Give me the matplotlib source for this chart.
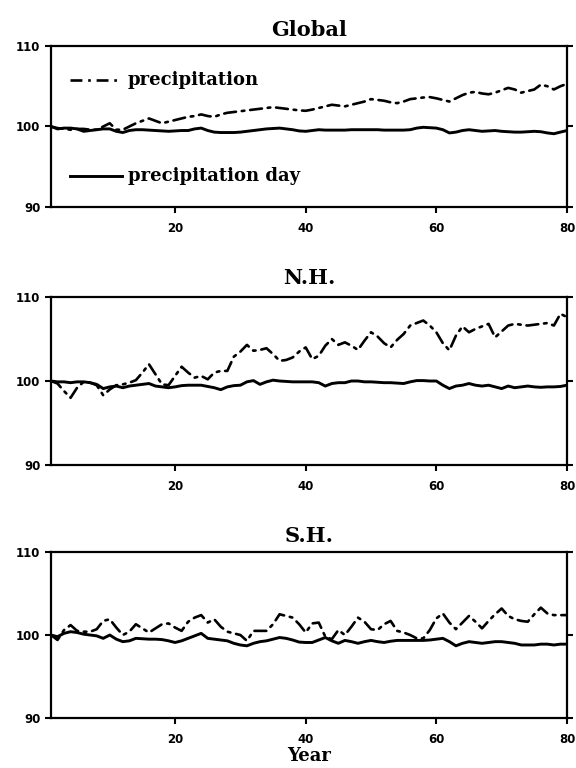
import numpy as np
import matplotlib
matplotlib.use("Agg")
import matplotlib.pyplot as plt

years = np.arange(1, 81)

global_precip = [
    100.0, 99.8, 99.7, 99.6, 99.7, 99.7, 99.6, 99.6, 100.0, 100.4,
    99.6, 99.6, 100.0, 100.4, 100.7, 101.0, 100.7, 100.4, 100.6, 100.8,
    101.0, 101.2, 101.3, 101.5, 101.3, 101.2, 101.5, 101.7, 101.8, 101.9,
    102.0, 102.1, 102.2, 102.3, 102.4, 102.3, 102.2, 102.1, 102.0, 101.95,
    102.1, 102.3, 102.5, 102.7, 102.6, 102.5, 102.7, 102.9, 103.1, 103.4,
    103.3, 103.2, 103.0, 102.9, 103.1, 103.4, 103.5, 103.6, 103.65, 103.5,
    103.3, 103.1, 103.5, 103.9, 104.2, 104.3, 104.1, 104.0, 104.2, 104.5,
    104.8, 104.6, 104.2, 104.4, 104.6, 105.2, 105.0, 104.6, 105.0, 105.3,
]
global_day = [
    100.0, 99.7, 99.8, 99.8, 99.7, 99.4, 99.5, 99.6, 99.7, 99.7,
    99.4, 99.25, 99.5, 99.6, 99.6, 99.55, 99.5, 99.45, 99.4, 99.45,
    99.5, 99.5, 99.7, 99.8, 99.5, 99.3, 99.25, 99.25, 99.25, 99.3,
    99.4, 99.5, 99.6, 99.7, 99.75, 99.8, 99.7, 99.6, 99.45, 99.4,
    99.5, 99.6, 99.55, 99.55, 99.55, 99.55, 99.6, 99.6, 99.6, 99.6,
    99.6, 99.55, 99.55, 99.55, 99.55, 99.6, 99.8, 99.9, 99.85, 99.8,
    99.6, 99.2, 99.3, 99.5, 99.6, 99.5, 99.4, 99.45, 99.5, 99.4,
    99.35, 99.3, 99.3, 99.35, 99.4, 99.35, 99.2, 99.1, 99.3, 99.5,
]
nh_precip = [
    100.0, 99.7, 98.8, 98.0, 99.2, 99.9, 99.8, 99.5, 98.3, 99.0,
    99.5, 99.6, 99.8, 100.1, 101.0, 102.0, 100.8, 99.6, 99.5, 100.6,
    101.7, 101.0, 100.4, 100.6, 100.2, 101.0, 101.2, 101.2, 102.9, 103.5,
    104.3, 103.6, 103.7, 103.9, 103.2, 102.4, 102.5, 102.8, 103.5, 104.0,
    102.6, 103.0, 104.2, 105.0, 104.3, 104.6, 104.2, 103.7, 104.8, 105.8,
    105.3, 104.5, 104.0, 104.9, 105.6, 106.6, 106.9, 107.2, 106.6, 105.8,
    104.5, 103.65, 105.4, 106.5, 105.8, 106.2, 106.5, 106.8, 105.2, 105.9,
    106.6, 106.8, 106.7, 106.6, 106.7, 106.8, 106.9, 106.6, 108.0, 107.6,
]
nh_day = [
    100.0, 99.9, 99.9, 99.8, 99.9, 99.9, 99.8, 99.6, 99.1, 99.3,
    99.4, 99.2, 99.4, 99.5, 99.6, 99.7, 99.4, 99.3, 99.2, 99.3,
    99.45, 99.5, 99.5, 99.5, 99.35, 99.2, 98.97, 99.3, 99.45, 99.5,
    99.9, 100.05, 99.6, 99.9, 100.1, 100.0, 99.95, 99.9, 99.9, 99.9,
    99.9, 99.8, 99.4, 99.7, 99.8, 99.8, 100.0, 100.0, 99.9, 99.9,
    99.85, 99.8, 99.8, 99.75, 99.7, 99.9, 100.05, 100.05, 100.0, 100.0,
    99.5, 99.1, 99.4, 99.5, 99.7, 99.5, 99.4, 99.5, 99.3, 99.1,
    99.4, 99.2, 99.3, 99.4, 99.3, 99.25, 99.3, 99.3, 99.35, 99.5,
]
sh_precip = [
    100.0, 99.4, 100.6, 101.2, 100.5, 100.4, 100.4, 100.7, 101.7, 101.9,
    100.9, 100.0, 100.4, 101.3, 100.8, 100.3, 100.8, 101.3, 101.4, 100.9,
    100.5, 101.6, 102.1, 102.4, 101.5, 101.9, 101.0, 100.4, 100.2, 100.0,
    99.3, 100.5, 100.5, 100.5, 101.3, 102.5, 102.3, 102.1, 101.3, 100.3,
    101.4, 101.5, 99.8, 99.5, 100.6, 100.0, 101.0, 102.1, 101.6, 100.7,
    100.6, 101.3, 101.7, 100.5, 100.3, 100.0, 99.6, 99.6, 100.6, 102.0,
    102.6, 101.5, 100.7, 101.5, 102.3, 101.6, 100.8, 101.7, 102.5, 103.2,
    102.3, 101.9, 101.7, 101.6, 102.5, 103.3, 102.6, 102.4, 102.4, 102.4,
]
sh_day = [
    100.0, 99.8, 100.2, 100.4, 100.3, 100.1, 100.0, 99.9, 99.6, 100.0,
    99.5, 99.2, 99.3, 99.6, 99.55, 99.5, 99.5, 99.45, 99.3, 99.1,
    99.3, 99.6, 99.9, 100.2, 99.6, 99.5, 99.4, 99.3, 99.0, 98.8,
    98.7, 99.0, 99.2, 99.3, 99.5, 99.7, 99.6, 99.4, 99.15, 99.1,
    99.1, 99.4, 99.7, 99.3, 99.0, 99.35, 99.2, 99.0, 99.2, 99.35,
    99.2, 99.1, 99.25, 99.35, 99.35, 99.35, 99.35, 99.35, 99.4, 99.5,
    99.6, 99.2, 98.7, 99.0, 99.2, 99.1, 99.0, 99.1, 99.2, 99.2,
    99.1, 99.0, 98.8, 98.8, 98.8, 98.9, 98.9, 98.8, 98.9, 98.9,
]

panel_titles = ["Global", "N.H.", "S.H."]
legend_labels = ["precipitation", "precipitation day"]
x_ticks = [20, 40, 60, 80]
y_ticks = [90, 100, 110]

SERIF = "DejaVu Serif"
DASHDOT = (0, (4.5, 2.2, 1.0, 2.2))

fig = plt.figure(figsize=(5.76, 7.68), dpi=100)
positions = [
    [0.0885, 0.7305, 0.8958, 0.2096],
    [0.0885, 0.3945, 0.8958, 0.2188],
    [0.0885, 0.0651, 0.8958, 0.2161],
]
series = [
    (global_precip, global_day),
    (nh_precip, nh_day),
    (sh_precip, sh_day),
]
title_pads = [7, 9, 7]

for i, (pos, (pr, dy), title) in enumerate(zip(positions, series, panel_titles)):
    ax = fig.add_axes(pos)
    ax.plot(years, pr, color="black", lw=1.9, linestyle=DASHDOT,
            dash_capstyle="round")
    ax.plot(years, dy, color="black", lw=2.1, solid_joinstyle="round")
    ax.set_xlim(1, 80)
    ax.set_ylim(90, 110)
    ax.set_xticks(x_ticks)
    ax.set_yticks(y_ticks)
    for sp in ax.spines.values():
        sp.set_linewidth(1.6)
    ax.tick_params(axis="both", direction="out", length=4.5, width=1.5,
                   labelsize=8.5, pad=3)
    ax.tick_params(axis="x", pad=6)
    ax.tick_params(axis="y", right=True, labelright=False)
    for lab in ax.get_xticklabels() + ax.get_yticklabels():
        lab.set_fontweight("heavy")
    ax.set_title(title, family=SERIF, fontweight="bold", fontsize=15,
                 pad=title_pads[i])
    if i == 0:
        ax.plot([0.037, 0.138], [0.79, 0.79], transform=ax.transAxes,
                color="black", lw=1.9, linestyle=DASHDOT)
        ax.text(0.149, 0.79, legend_labels[0], transform=ax.transAxes,
                family=SERIF, fontweight="bold", fontsize=13, va="center")
        ax.plot([0.037, 0.138], [0.19, 0.19], transform=ax.transAxes,
                color="black", lw=2.1)
        ax.text(0.149, 0.19, legend_labels[1], transform=ax.transAxes,
                family=SERIF, fontweight="bold", fontsize=13, va="center")
    if i == 2:
        ax.set_xlabel("Year", family=SERIF, fontweight="bold", fontsize=13,
                      labelpad=1)

fig.savefig("out.png", dpi=100)
